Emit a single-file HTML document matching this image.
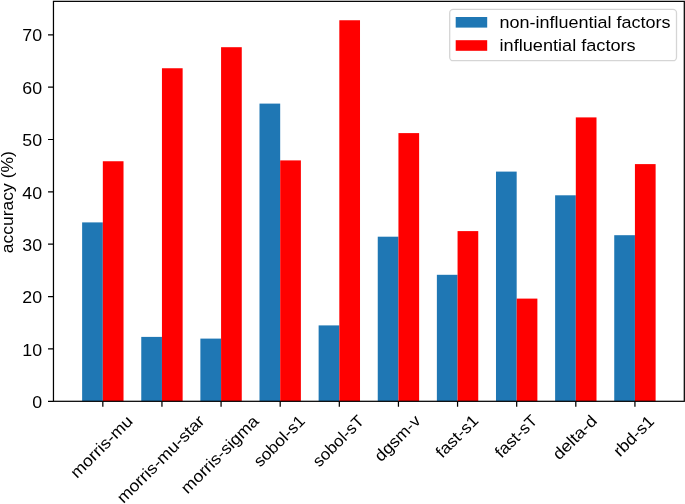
<!DOCTYPE html>
<html><head><meta charset="utf-8"><style>
html,body{margin:0;padding:0;background:#fff;}
svg{display:block;will-change:transform;}
text{font-family:"Liberation Sans",sans-serif;font-size:16.3px;fill:#000;}
</style></head><body>
<svg width="685" height="504" viewBox="0 0 685 504">
<rect x="0" y="0" width="685" height="504" fill="#fff"/>
<rect x="82.13" y="222.40" width="20.69" height="178.90" fill="#1f77b4"/>
<rect x="102.83" y="161.25" width="20.69" height="240.05" fill="#ff0000"/>
<rect x="141.26" y="336.90" width="20.69" height="64.40" fill="#1f77b4"/>
<rect x="161.95" y="68.25" width="20.69" height="333.05" fill="#ff0000"/>
<rect x="200.38" y="338.60" width="20.69" height="62.70" fill="#1f77b4"/>
<rect x="221.07" y="47.20" width="20.69" height="354.10" fill="#ff0000"/>
<rect x="259.50" y="103.60" width="20.69" height="297.70" fill="#1f77b4"/>
<rect x="280.20" y="160.40" width="20.69" height="240.90" fill="#ff0000"/>
<rect x="318.63" y="325.40" width="20.69" height="75.90" fill="#1f77b4"/>
<rect x="339.32" y="20.25" width="20.69" height="381.05" fill="#ff0000"/>
<rect x="377.75" y="236.70" width="20.69" height="164.60" fill="#1f77b4"/>
<rect x="398.44" y="133.10" width="20.69" height="268.20" fill="#ff0000"/>
<rect x="436.87" y="274.80" width="20.69" height="126.50" fill="#1f77b4"/>
<rect x="457.56" y="231.10" width="20.69" height="170.20" fill="#ff0000"/>
<rect x="495.99" y="171.60" width="20.69" height="229.70" fill="#1f77b4"/>
<rect x="516.69" y="298.60" width="20.69" height="102.70" fill="#ff0000"/>
<rect x="555.12" y="195.30" width="20.69" height="206.00" fill="#1f77b4"/>
<rect x="575.81" y="117.40" width="20.69" height="283.90" fill="#ff0000"/>
<rect x="614.24" y="235.20" width="20.69" height="166.10" fill="#1f77b4"/>
<rect x="634.93" y="164.10" width="20.69" height="237.20" fill="#ff0000"/>
<path d="M48.02 401.30H53.46 M48.02 348.94H53.46 M48.02 296.58H53.46 M48.02 244.22H53.46 M48.02 191.86H53.46 M48.02 139.50H53.46 M48.02 87.14H53.46 M48.02 34.78H53.46 M102.83 401.30V406.74 M161.95 401.30V406.74 M221.07 401.30V406.74 M280.20 401.30V406.74 M339.32 401.30V406.74 M398.44 401.30V406.74 M457.56 401.30V406.74 M516.69 401.30V406.74 M575.81 401.30V406.74 M634.93 401.30V406.74" stroke="#000" stroke-width="1.24" fill="none"/>
<rect x="53.46" y="1.35" width="630.84" height="399.95" fill="none" stroke="#000" stroke-width="1.24" stroke-linejoin="miter" stroke-linecap="square"/>
<text x="42.17" y="408.00" text-anchor="end" textLength="9.90" lengthAdjust="spacingAndGlyphs">0</text>
<text x="42.17" y="355.64" text-anchor="end" textLength="19.79" lengthAdjust="spacingAndGlyphs">10</text>
<text x="42.17" y="303.28" text-anchor="end" textLength="19.79" lengthAdjust="spacingAndGlyphs">20</text>
<text x="42.17" y="250.92" text-anchor="end" textLength="19.79" lengthAdjust="spacingAndGlyphs">30</text>
<text x="42.17" y="198.56" text-anchor="end" textLength="19.79" lengthAdjust="spacingAndGlyphs">40</text>
<text x="42.17" y="146.20" text-anchor="end" textLength="19.79" lengthAdjust="spacingAndGlyphs">50</text>
<text x="42.17" y="93.84" text-anchor="end" textLength="19.79" lengthAdjust="spacingAndGlyphs">60</text>
<text x="42.17" y="41.48" text-anchor="end" textLength="19.79" lengthAdjust="spacingAndGlyphs">70</text>
<text x="0" y="0" transform="translate(12.50 202.20) rotate(-90)" text-anchor="middle" textLength="102.05" lengthAdjust="spacingAndGlyphs">accuracy (%)</text>
<text x="0" y="0" transform="translate(77.04 478.93) rotate(-45)" textLength="80.24" lengthAdjust="spacingAndGlyphs">morris-mu</text>
<text x="0" y="0" transform="translate(123.56 504.12) rotate(-45)" textLength="115.98" lengthAdjust="spacingAndGlyphs">morris-mu-star</text>
<text x="0" y="0" transform="translate(187.50 494.49) rotate(-45)" textLength="102.21" lengthAdjust="spacingAndGlyphs">morris-sigma</text>
<text x="0" y="0" transform="translate(260.15 467.84) rotate(-45)" textLength="64.95" lengthAdjust="spacingAndGlyphs">sobol-s1</text>
<text x="0" y="0" transform="translate(319.36 467.66) rotate(-45)" textLength="64.55" lengthAdjust="spacingAndGlyphs">sobol-sT</text>
<text x="0" y="0" transform="translate(381.08 462.46) rotate(-45)" textLength="57.41" lengthAdjust="spacingAndGlyphs">dgsm-v</text>
<text x="0" y="0" transform="translate(442.20 458.83) rotate(-45)" textLength="52.83" lengthAdjust="spacingAndGlyphs">fast-s1</text>
<text x="0" y="0" transform="translate(501.41 458.65) rotate(-45)" textLength="52.43" lengthAdjust="spacingAndGlyphs">fast-sT</text>
<text x="0" y="0" transform="translate(559.29 460.78) rotate(-45)" textLength="54.89" lengthAdjust="spacingAndGlyphs">delta-d</text>
<text x="0" y="0" transform="translate(619.88 457.45) rotate(-45)" textLength="49.76" lengthAdjust="spacingAndGlyphs">rbd-s1</text>
<rect x="449.70" y="9.40" width="226.80" height="51.30" rx="3.5" fill="#fff" stroke="#d5d5d5" stroke-width="1.3"/>
<rect x="455.70" y="17.00" width="31.50" height="10.60" fill="#1f77b4"/>
<text x="499.60" y="27.90" textLength="171.01" lengthAdjust="spacingAndGlyphs">non-influential factors</text>
<rect x="455.70" y="40.20" width="31.50" height="10.60" fill="#ff0000"/>
<text x="499.54" y="51.00" textLength="136.17" lengthAdjust="spacingAndGlyphs">influential factors</text>
</svg>
</body></html>
